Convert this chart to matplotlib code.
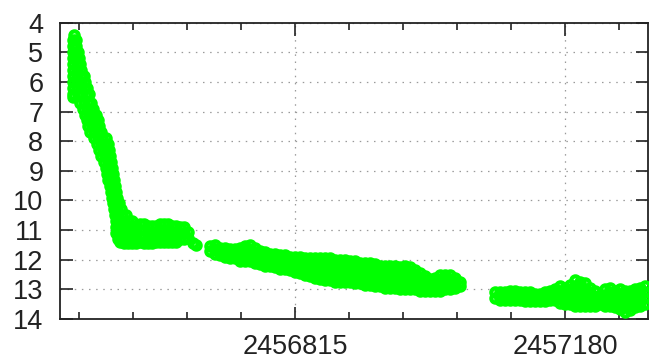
import matplotlib
matplotlib.use("Agg")
import matplotlib.pyplot as plt
from matplotlib.ticker import FixedLocator, AutoMinorLocator
import numpy as np

JD0 = 2456500  # days below are JD - 2456500

# --- early decline: rows of magnitude with the days observed at that brightness
decline_mag = [4.4, 4.6, 4.8, 5.0, 5.2, 5.4, 5.6, 5.8, 6.0, 6.2, 6.4, 6.5,
               6.7, 6.9, 7.1, 7.3, 7.5, 7.7, 7.9, 8.1, 8.3, 8.5, 8.7, 8.9,
               9.1, 9.3, 9.5, 9.7, 9.9, 10.1, 10.3, 10.5, 10.7]
decline_days = [[16], [14.6, 18.6], [15, 19], [15, 19, 21.5], [15, 19, 23],
                [15, 20, 24], [15, 20, 25.5], [15, 20, 25.5, 29.5],
                [15, 20, 25.5, 31], [15, 20, 25.5, 31, 33.5],
                [15, 21.5, 27, 32, 36], [14],
                [24, 29.5, 35, 39], [28, 33.5, 39, 41.5], [31, 36, 41.5, 45.5],
                [33.5, 39, 44, 48.5], [35, 40, 45.5, 50], [37.6, 43, 48.5, 52.5],
                [43, 48.5, 54, 59], [47, 52.5, 58, 62], [50, 55, 60.5, 63],
                [52.5, 58, 63, 64.5], [56.5, 62, 66], [59, 63, 67],
                [60.5, 64.5, 68.7], [62, 66, 70], [64.5, 68.7, 71.4],
                [66, 70, 72.7], [67.3, 71.4, 74], [68.7, 72.7, 76.8],
                [70, 74, 79.5], [71.4, 75.4, 80.9, 86],
                [72.7, 76.8, 82, 89, 94.5]]

# --- plateau (first season end)
plateau_day = [72.7, 75.4, 78.1, 83.5, 88.9, 94.3, 99.7, 105.1, 110.6, 116,
               121.4, 126.8, 132.2, 137.6, 143, 148.4, 153.8, 159.2, 164.6,
               170, 176.4, 180.4]
plateau_mags = [[10.9, 11.1], [10.9, 11.1, 11.3], [10.85, 11.05, 11.25, 11.4],
                [10.85, 11.05, 11.25, 11.45], [10.85, 11.05, 11.25, 11.45],
                [10.85, 11.05, 11.25, 11.45], [10.85, 11.05, 11.25, 11.45],
                [10.8, 11.0, 11.2, 11.4], [10.8, 11.0, 11.2, 11.45],
                [10.85, 11.05, 11.25, 11.45], [10.85, 11.05, 11.25, 11.45],
                [10.85, 11.05, 11.25, 11.4], [10.8, 11.0, 11.2, 11.4],
                [10.8, 11.0, 11.2, 11.4], [10.8, 11.0, 11.2, 11.4],
                [10.85, 11.05, 11.25, 11.4], [10.85, 11.05, 11.25, 11.4],
                [10.9, 11.1, 11.3], [10.9, 11.1, 11.3], [11.05, 11.25],
                [11.45], [11.5]]

# --- second season
season2_day = [199.9, 206.6, 213.4, 220.2, 226.9, 233.7, 240.5, 247.2, 254.0,
               260.7, 267.5, 274.3, 281.0, 287.8, 294.5, 301.3, 308.1, 314.8,
               321.6, 328.4, 335.1, 341.9, 348.6, 355.4, 362.2, 368.9, 375.7,
               382.5, 389.2, 396.0, 402.7, 409.5, 416.3, 423.0, 429.8, 436.5,
               443.3, 450.1, 456.8, 463.6, 470.3, 477.1, 483.9, 490.6, 497.4,
               504.2, 510.9, 517.7, 524.4, 531.2, 538.0]
season2_mags = [[11.55, 11.7], [11.5, 11.65, 11.8], [11.6, 11.75, 11.85],
                [11.6, 11.75, 11.9], [11.65, 11.8, 11.95], [11.65, 11.8, 11.95],
                [11.6, 11.8, 11.95, 12.05], [11.55, 11.75, 11.95, 12.05],
                [11.5, 11.7, 11.9, 12.05], [11.6, 11.8, 12.0, 12.1],
                [11.7, 11.85, 12.0, 12.15], [11.75, 11.9, 12.05, 12.2],
                [11.8, 11.95, 12.1, 12.2], [11.8, 11.95, 12.1, 12.25],
                [11.85, 12.0, 12.15, 12.3], [11.85, 12.0, 12.15, 12.3],
                [11.9, 12.05, 12.2, 12.35], [11.9, 12.05, 12.2, 12.4],
                [11.9, 12.1, 12.25, 12.45], [11.95, 12.1, 12.3, 12.5],
                [11.95, 12.15, 12.35, 12.55], [11.95, 12.15, 12.35, 12.6],
                [11.95, 12.15, 12.4, 12.65], [11.95, 12.2, 12.45, 12.7],
                [11.95, 12.2, 12.45, 12.7], [12.0, 12.25, 12.5, 12.75],
                [12.0, 12.25, 12.5, 12.75], [12.0, 12.25, 12.5, 12.75],
                [12.05, 12.3, 12.55, 12.75], [12.05, 12.3, 12.55, 12.8],
                [12.1, 12.35, 12.6, 12.8], [12.1, 12.35, 12.6, 12.85],
                [12.1, 12.35, 12.6, 12.85], [12.15, 12.4, 12.65, 12.9],
                [12.2, 12.45, 12.7, 12.9], [12.2, 12.45, 12.7, 12.95],
                [12.2, 12.45, 12.7, 12.95], [12.2, 12.45, 12.7, 12.95],
                [12.25, 12.5, 12.75, 13.0], [12.2, 12.45, 12.75, 13.0],
                [12.25, 12.5, 12.75, 13.0], [12.35, 12.55, 12.8, 13.0],
                [12.45, 12.65, 12.85, 13.05], [12.55, 12.7, 12.9, 13.05],
                [12.65, 12.8, 12.95, 13.05], [12.6, 12.8, 12.95, 13.05],
                [12.5, 12.7, 12.9, 13.05], [12.5, 12.7, 12.9, 13.0],
                [12.5, 12.7, 12.85, 13.0], [12.6, 12.75, 12.95], [12.75, 12.9]]

# --- third season
season3_day = [585.3, 592.1, 598.8, 605.6, 612.4, 619.1, 625.9, 632.6, 639.4,
               646.1, 652.9, 659.7, 666.4, 673.2, 680.0, 686.7, 693.5, 700.2,
               707.0, 713.8, 720.5, 727.3, 734.1, 740.8, 747.6, 754.3, 761.1,
               767.9, 774.6, 781.4, 788.1]
season3_mags = [[13.1, 13.3], [13.1, 13.25, 13.35], [13.1, 13.25, 13.35],
                [13.05, 13.2, 13.35], [13.05, 13.2, 13.35], [13.1, 13.25, 13.35],
                [13.1, 13.25, 13.4], [13.1, 13.25, 13.4], [13.15, 13.3, 13.4],
                [13.15, 13.3, 13.4], [13.1, 13.25, 13.4], [13.05, 13.2, 13.35],
                [13.0, 13.15, 13.35], [12.9, 13.1, 13.3, 13.45],
                [12.95, 13.15, 13.35, 13.5], [12.85, 13.05, 13.25, 13.5],
                [12.7, 12.9, 13.1, 13.3, 13.55], [12.75, 12.95, 13.15, 13.35, 13.55],
                [12.8, 13.0, 13.2, 13.4, 13.55], [12.95, 13.15, 13.35, 13.55],
                [13.05, 13.25, 13.45, 13.55], [13.2, 13.35, 13.5],
                [13.0, 13.2, 13.4, 13.55], [12.95, 13.15, 13.35, 13.55],
                [13.05, 13.2, 13.4, 13.6], [13.0, 13.2, 13.45, 13.65],
                [13.05, 13.25, 13.5, 13.75], [13.05, 13.25, 13.5, 13.7],
                [13.0, 13.2, 13.4, 13.6], [12.95, 13.15, 13.35, 13.55],
                [12.9, 13.1, 13.3, 13.5]]

x_major = [2456815, 2457180]
y_ticks = [4, 5, 6, 7, 8, 9, 10, 11, 12, 13, 14]

# flatten into observation lists
jd, mag = [], []
for m, ds in zip(decline_mag, decline_days):
    for d in ds:
        jd.append(JD0 + d); mag.append(m)
for days, mags in ((plateau_day, plateau_mags), (season2_day, season2_mags),
                   (season3_day, season3_mags)):
    for d, ms in zip(days, mags):
        for m in ms:
            jd.append(JD0 + d); mag.append(m)

plt.rcParams['font.family'] = ['Liberation Sans', 'DejaVu Sans']

fig = plt.figure(figsize=(6.52, 3.6), dpi=100)
ax = fig.add_axes([60/652, 41/360, 588/652, 296.3/360])

ax.plot(jd, mag, 'o', mfc='none', mec='#00ff00', ms=6.0, mew=3.0, zorder=3,
        clip_on=True)

ax.set_xlim(2456497, 2457292)
ax.set_ylim(14, 4)

ax.xaxis.set_major_locator(FixedLocator(x_major))
ax.xaxis.set_minor_locator(AutoMinorLocator(5))
ax.yaxis.set_major_locator(FixedLocator(y_ticks))
ax.set_xticklabels([str(v) for v in x_major])
ax.set_yticklabels([str(v) for v in y_ticks])

ax.grid(True, which='major', color='#9a9a9a', linestyle=(0, (1.2, 4.5)),
        linewidth=0.9)
ax.set_axisbelow(True)

ax.tick_params(which='both', direction='in', top=True, right=True,
               colors='#222222', labelcolor='#222222', width=1.2)
ax.tick_params(which='major', length=9, labelsize=19.5)
ax.tick_params(axis='x', which='major', pad=11)
ax.tick_params(axis='y', which='major', pad=12)
ax.tick_params(which='minor', length=5)

for s in ax.spines.values():
    s.set_linewidth(1.3)
    s.set_color('#222222')

fig.savefig('out.png', dpi=100)
